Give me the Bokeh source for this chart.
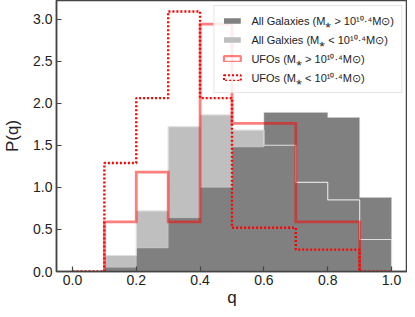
import numpy as np
from bokeh.plotting import figure
from bokeh.models import (ColumnDataSource, Legend, LegendItem, FixedTicker,
                          PrintfTickFormatter, Range1d)
from bokeh.embed import file_html
from bokeh.resources import INLINE

# ---- data -------------------------------------------------------------
edges = [0.0, 0.1, 0.2, 0.3, 0.4, 0.5, 0.6, 0.7, 0.8, 0.9, 1.0]
all_high = [0.0, 0.05, 0.28, 0.64, 1.00, 1.48, 1.89, 1.89, 1.83, 0.88]
all_low = [0.0, 0.19, 0.72, 1.72, 1.86, 1.68, 1.50, 1.06, 0.85, 0.38]
ufo_high = [0.0, 0.59, 1.18, 0.59, 2.94, 1.76, 1.76, 0.59, 0.59, 0.0]
ufo_low = [0.0, 1.29, 2.06, 3.09, 2.06, 0.52, 0.52, 0.26, 0.26, 0.0]
x_ticks = [0.0, 0.2, 0.4, 0.6, 0.8, 1.0]
y_ticks = [0.0, 0.5, 1.0, 1.5, 2.0, 2.5, 3.0]
labels = ["All Galaxies (M\u204e > 10\u00b9\u2070\u00b7\u2074M\u2299)",
          "All Galxies (M\u204e < 10\u00b9\u2070\u00b7\u2074M\u2299)",
          "UFOs (M\u204e > 10\u00b9\u2070\u00b7\u2074M\u2299)",
          "UFOs (M\u204e < 10\u00b9\u2070\u00b7\u2074M\u2299)"]


def step_xy(e, v, trim_leading=False, trim_trailing=False):
    e = list(e)
    v = list(v)
    if trim_leading:
        while v and v[0] == 0:
            v = v[1:]
            e = e[1:]
    if trim_trailing:
        while v and v[-1] == 0:
            v = v[:-1]
            e = e[:-1]
    xs, ys = [e[0]], [0.0]
    for i, val in enumerate(v):
        xs += [e[i], e[i + 1]]
        ys += [val, val]
    xs.append(e[len(v)])
    ys.append(0.0)
    return xs, ys


FONT = "Liberation Sans"

p = figure(width=407, height=309, output_backend="svg", toolbar_location=None,
           x_range=Range1d(-0.05, 1.05), y_range=Range1d(0, 3.22),
           min_border_left=10, min_border_right=0, min_border_top=0,
           min_border_bottom=10)
p.grid.visible = False
p.background_fill_color = "white"
p.outline_line_color = "#444444"
p.outline_line_width = 1.5

# filled step histograms
lx, ly = step_xy(edges, all_low, True, False)
r_low = p.patch(lx, ly, fill_color="#bfbfbf", line_color=None)
hx, hy = step_xy(edges, all_high, True, False)
r_high = p.patch(hx, hy, fill_color="#808080", line_color=None)

# light outlines
p.line(lx, ly, line_color="#dedede", line_width=1.2)
p.line(hx, hy, line_color="#d0d0d0", line_width=0.8, line_alpha=0.6)

# UFO steps
ux, uy = step_xy(edges, ufo_high, True, True)
p.line(ux, uy, line_color="red", line_alpha=0.5, line_width=2.8,
       line_join="miter")
dx, dy = step_xy(edges, ufo_low, False, False)
p.line(dx, dy, line_color="red", line_width=2.4, line_dash="2 2")

# legend-only renderers (NaN data, draw nothing in the plot)
nan_src = ColumnDataSource(dict(left=[np.nan], right=[np.nan],
                                top=[np.nan], bottom=[np.nan]))
r_u1 = p.quad(left="left", right="right", top="top", bottom="bottom",
              source=nan_src, fill_color=None, line_color="red",
              line_alpha=0.5, line_width=2.2)
r_u2 = p.quad(left="left", right="right", top="top", bottom="bottom",
              source=nan_src, fill_color=None, line_color="red",
              line_width=2.0, line_dash="2 2")

legend = Legend(items=[LegendItem(label=labels[0], renderers=[r_high]),
                       LegendItem(label=labels[1], renderers=[r_low]),
                       LegendItem(label=labels[2], renderers=[r_u1], index=0),
                       LegendItem(label=labels[3], renderers=[r_u2], index=0)],
                location="top_right")
legend.label_text_font = FONT
legend.label_text_font_size = "11px"
legend.label_text_color = "#222222"
legend.label_height = 10
legend.glyph_width = 21
legend.glyph_height = 7
legend.label_standoff = 9
legend.spacing = 4
legend.padding = 7
legend.margin = 5
legend.border_line_color = "#cccccc"
legend.border_line_width = 1
legend.background_fill_alpha = 0.85
p.add_layout(legend)

for ax in (p.xaxis, p.yaxis):
    ax.major_tick_in = 5
    ax.major_tick_out = 0
    ax.minor_tick_in = 0
    ax.minor_tick_out = 0
    ax.axis_line_color = "#444444"
    ax.axis_line_width = 1.5
    ax.major_tick_line_color = "#444444"
    ax.major_tick_line_width = 1.2
    ax.major_label_text_font = FONT
    ax.major_label_text_font_size = "14px"
    ax.major_label_text_color = "#222222"
    ax.axis_label_text_font = FONT
    ax.axis_label_text_font_size = "17px"
    ax.axis_label_text_font_style = "normal"
    ax.axis_label_text_color = "#222222"
    ax.formatter = PrintfTickFormatter(format="%.1f")

p.xaxis.ticker = FixedTicker(ticks=x_ticks)
p.yaxis.ticker = FixedTicker(ticks=y_ticks)
p.xaxis.axis_label = "q"
p.yaxis.axis_label = "P(q)"
p.xaxis.major_label_standoff = 3
p.yaxis.major_label_standoff = 4
p.xaxis.axis_label_standoff = 0
p.yaxis.axis_label_standoff = 8

open("out.html", "w").write(file_html(p, INLINE))
